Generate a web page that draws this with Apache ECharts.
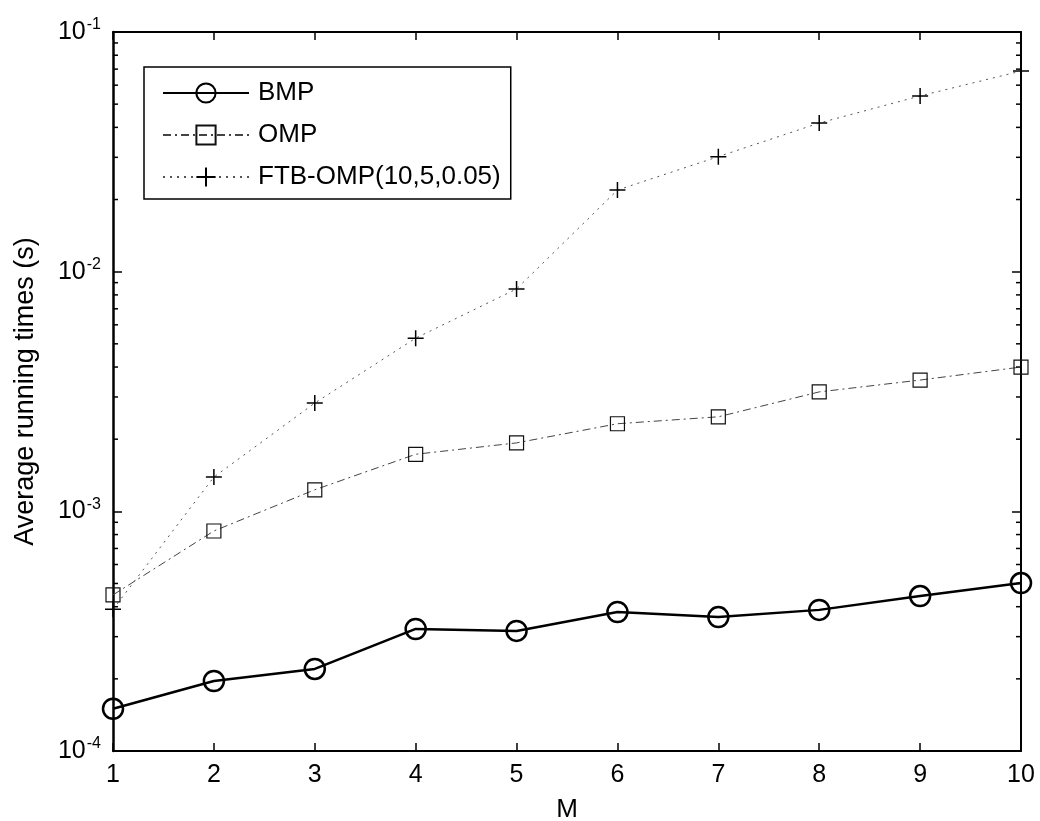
<!DOCTYPE html>
<html>
<head>
<meta charset="utf-8">
<script src="https://cdn.jsdelivr.net/npm/echarts@6/dist/echarts.min.js"></script>
<style>
  html, body { margin: 0; padding: 0; background: #fff; }
  #chart { width: 1040px; height: 821px; }
</style>
</head>
<body>
<div id="chart"></div>
<script>
// Number of measurements M
const mValues = [1, 2, 3, 4, 5, 6, 7, 8, 9, 10];

// Average running times (s) per method
const bmpTimes = [1.50e-4, 1.96e-4, 2.20e-4, 3.23e-4, 3.17e-4, 3.80e-4, 3.62e-4, 3.88e-4, 4.43e-4, 5.02e-4];
const ompTimes = [4.48e-4, 8.28e-4, 1.23e-3, 1.73e-3, 1.93e-3, 2.32e-3, 2.48e-3, 3.15e-3, 3.53e-3, 4.00e-3];
const ftbTimes = [3.90e-4, 1.39e-3, 2.83e-3, 5.28e-3, 8.47e-3, 2.19e-2, 3.02e-2, 4.17e-2, 5.41e-2, 6.87e-2];

const seriesNames = ['BMP', 'OMP', 'FTB-OMP(10,5,0.05)'];

// Log-axis minor tick positions (2..9 within each decade)
const decades = [1e-4, 1e-3, 1e-2];
const minorSteps = [2, 3, 4, 5, 6, 7, 8, 9];

const minorTicks = [];
decades.forEach(d => minorSteps.forEach(s => minorTicks.push(+(d * s).toPrecision(3))));

const pair = arr => mValues.map((m, i) => [m, arr[i]]);

const FONT = '"Liberation Sans", Arial, Helvetica, sans-serif';
const chart = echarts.init(document.getElementById('chart'), null, { renderer: 'canvas' });

const tickLabelRich = {
  b: { fontFamily: FONT, fontSize: 25, color: '#000', lineHeight: 30 },
  s: { fontFamily: FONT, fontSize: 16, color: '#000', verticalAlign: 'top', lineHeight: 30, padding: [0, 0, 16, 1] }
};

const option = {
  backgroundColor: '#fff',
  animation: false,
  grid: { left: 113, top: 32, right: 19, bottom: 70, containLabel: false, outerBoundsMode: 'none' },
  legend: {
    data: seriesNames,
    orient: 'vertical',
    left: 144,
    top: 67,
    padding: [13, 10, 9, 18],
    itemWidth: 86,
    itemHeight: 24,
    itemGap: 16,
    borderColor: '#000',
    borderWidth: 1.5,
    backgroundColor: '#fff',
    selectedMode: false,
    textStyle: { fontFamily: FONT, fontSize: 26, color: '#000', lineHeight: 24, padding: [0, 0, 0, 4] }
  },
  xAxis: [
    {
      type: 'value', min: 1, max: 10, interval: 1,
      name: 'M', nameLocation: 'middle', nameGap: 46,
      nameTextStyle: { fontFamily: FONT, fontSize: 26, color: '#000' },
      axisLine: { show: true, onZero: false, lineStyle: { color: '#000', width: 2 } },
      axisTick: { show: true, inside: true, length: 8, lineStyle: { color: '#000', width: 1.5 } },
      axisLabel: { fontFamily: FONT, fontSize: 25, color: '#000', margin: 12 },
      splitLine: { show: false }
    },
    {
      type: 'value', min: 1, max: 10, interval: 1, position: 'top',
      axisLine: { show: true, onZero: false, lineStyle: { color: '#000', width: 2 } },
      axisTick: { show: true, inside: true, length: 8, lineStyle: { color: '#000', width: 1.5 } },
      axisLabel: { show: false },
      splitLine: { show: false }
    }
  ],
  yAxis: [
    {
      type: 'log', logBase: 10, min: 1e-4, max: 1e-1,
      name: 'Average running times (s)', nameLocation: 'middle', nameGap: 74,
      nameTextStyle: { fontFamily: FONT, fontSize: 27, color: '#000' },
      axisLine: { show: true, onZero: false, lineStyle: { color: '#000', width: 2.5 } },
      axisTick: { show: true, inside: true, length: 9, lineStyle: { color: '#000', width: 1.5 } },
      axisLabel: {
        margin: 12,
        formatter: v => '{b|10}{s|-' + Math.round(-Math.log10(v)) + '}',
        rich: tickLabelRich
      },
      splitLine: { show: false }
    },
    {
      type: 'log', logBase: 10, min: 1e-4, max: 1e-1, position: 'right',
      axisLine: { show: true, onZero: false, lineStyle: { color: '#000', width: 2 } },
      axisTick: { show: true, inside: true, length: 9, lineStyle: { color: '#000', width: 1.5 } },
      axisLabel: { show: false },
      splitLine: { show: false }
    }
  ],
  series: [
    {
      name: 'BMP', type: 'line', data: pair(bmpTimes),
      symbol: 'circle', symbolSize: 20,
      lineStyle: { color: '#000', width: 2.5, type: 'solid' },
      itemStyle: { color: 'rgba(255,255,255,0)', borderColor: '#000', borderWidth: 2.5 },
      z: 5
    },
    {
      name: 'OMP', type: 'line', data: pair(ompTimes),
      symbol: 'rect', symbolSize: 14,
      lineStyle: { color: '#444', width: 1, type: [8, 4, 2, 4] },
      itemStyle: { color: 'rgba(255,255,255,0)', borderColor: '#111', borderWidth: 1.2 },
      z: 4
    },
    {
      name: 'FTB-OMP(10,5,0.05)', type: 'line', data: pair(ftbTimes),
      symbol: 'path://M0,-8L0,8M-8,0L8,0', symbolSize: 16,
      lineStyle: { color: '#555', width: 1, type: [2, 5] },
      itemStyle: { color: '#000', borderColor: '#000', borderWidth: 1.5 },
      z: 4
    },
    {
      // minor ticks of the log axis on both vertical frame edges
      type: 'custom', silent: true, z: 6,
      data: minorTicks.map(v => [1, v]),
      renderItem: (params, api) => {
        const y = api.coord([1, api.value(1)])[1];
        const cs = params.coordSys;
        const st = { stroke: '#000', lineWidth: 1.5 };
        return {
          type: 'group',
          children: [
            { type: 'line', shape: { x1: cs.x, y1: y, x2: cs.x + 5, y2: y }, style: st },
            { type: 'line', shape: { x1: cs.x + cs.width - 5, y1: y, x2: cs.x + cs.width, y2: y }, style: st }
          ]
        };
      }
    }
  ]
};

chart.setOption(option);
</script>
</body>
</html>
